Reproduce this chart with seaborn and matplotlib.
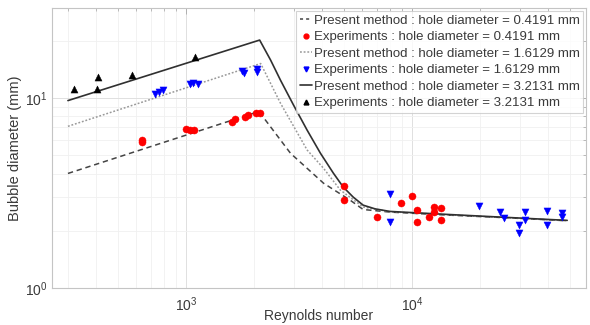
import numpy as np
import pandas as pd
import matplotlib
matplotlib.use("Agg")
import matplotlib.pyplot as plt
import seaborn as sns
from matplotlib.ticker import LogLocator, NullFormatter
from matplotlib.lines import Line2D

# ---- Model curves (Present method) ----
re_model_small = [300, 2103, 2901, 4065, 5330, 6084, 8000, 13400, 25000, 48700]
d_model_small = [4.01, 8.5, 5.12, 3.56, 2.90, 2.59, 2.51, 2.43, 2.35, 2.26]

re_model_mid = [300, 2140, 2621, 3436, 4055, 4819, 6084, 8000, 13400, 25000, 48700]
d_model_mid = [7.1, 15.2, 9.38, 5.33, 4.28, 3.28, 2.67, 2.52, 2.44, 2.35, 2.26]

re_model_large = [300, 2118, 2368, 2621, 2991, 3436, 3933, 4487, 4966, 5497, 6084, 6870, 8000, 13400, 25000, 48700]
d_model_large = [9.7, 20.2, 15.85, 12.4, 9.19, 6.78, 5.13, 4.03, 3.40, 3.01, 2.73, 2.61, 2.53, 2.45, 2.36, 2.27]

# ---- Experiments ----
re_exp_small = [638, 638, 1000, 1040, 1080, 1600, 1650, 1820, 1880, 2040, 2120,
                4980, 4980, 6990, 8950, 9970, 10490, 10490, 11930, 12500, 12500, 13400, 13400]
d_exp_small = [6.05, 5.85, 6.85, 6.8, 6.75, 7.5, 7.8, 7.95, 8.15, 8.3, 8.35,
               3.45, 2.90, 2.36, 2.79, 3.06, 2.57, 2.23, 2.36, 2.66, 2.52, 2.65, 2.28]

re_exp_mid = [730, 760, 790, 1040, 1070, 1130, 1770, 1800, 2055, 2055,
              8000, 8000, 19800, 24660, 25700, 29700, 29700, 31700, 31700, 39500, 39500, 46400, 46400]
d_exp_mid = [10.5, 10.8, 11.0, 11.9, 11.95, 11.8, 13.9, 13.5, 14.3, 13.7,
             3.12, 2.22, 2.70, 2.50, 2.33, 2.15, 1.94, 2.50, 2.28, 2.55, 2.15, 2.49, 2.36]

re_exp_large = [320, 403, 408, 577, 1096]
d_exp_large = [11.2, 11.2, 12.9, 13.2, 16.5]

labels = [
    "Present method : hole diameter = 0.4191 mm",
    "Experiments : hole diameter = 0.4191 mm",
    "Present method : hole diameter = 1.6129 mm",
    "Experiments : hole diameter = 1.6129 mm",
    "Present method : hole diameter = 3.2131 mm",
    "Experiments : hole diameter = 3.2131 mm",
]

sns.set_theme(style="white")
plt.rcParams['font.family'] = ['Liberation Sans', 'DejaVu Sans']
plt.rcParams['mathtext.fontset'] = 'custom'
plt.rcParams['mathtext.rm'] = 'Liberation Sans'
plt.rcParams['mathtext.it'] = 'Liberation Sans'

fig = plt.figure(figsize=(5.9, 3.25), dpi=100)
ax = fig.add_axes([52/590, 1-288/325, (586-52)/590, (288-8)/325])

txt = '#3a3a3a'

sns.lineplot(x=re_model_small, y=d_model_small, ax=ax, color='#444444', lw=1.1,
             linestyle=(0, (3.5, 2.5)), estimator=None, sort=False)
sns.lineplot(x=re_model_mid, y=d_model_mid, ax=ax, color='#999999', lw=1.1,
             linestyle=(0, (1.2, 1.2)), estimator=None, sort=False)
sns.lineplot(x=re_model_large, y=d_model_large, ax=ax, color='#303030', lw=1.2,
             linestyle='-', estimator=None, sort=False)

sns.scatterplot(x=re_exp_small, y=d_exp_small, ax=ax, color='#ff0000', marker='o',
                s=26, edgecolor='#ff0000', linewidth=0.3, zorder=5)
sns.scatterplot(x=re_exp_mid, y=d_exp_mid, ax=ax, color='#0000ff', marker='v',
                s=26, edgecolor='#0000ff', linewidth=0.3, zorder=5)
sns.scatterplot(x=re_exp_large, y=d_exp_large, ax=ax, color='#000000', marker='^',
                s=26, edgecolor='#000000', linewidth=0.3, zorder=5)

ax.set_xscale('log')
ax.set_yscale('log')
ax.set_xlim(255, 59000)
ax.set_ylim(1, 29.8)

ax.xaxis.set_major_locator(LogLocator(base=10))
ax.xaxis.set_minor_locator(LogLocator(base=10, subs=np.arange(2, 10)))
ax.yaxis.set_major_locator(LogLocator(base=10))
ax.yaxis.set_minor_locator(LogLocator(base=10, subs=np.arange(2, 10)))
ax.xaxis.set_minor_formatter(NullFormatter())
ax.yaxis.set_minor_formatter(NullFormatter())

ax.grid(True, which='major', color='#e0e0e0', lw=0.7)
ax.grid(True, which='minor', color='#f0f0f0', lw=0.6)
ax.set_axisbelow(True)

for sp in ax.spines.values():
    sp.set_color('#c4c4c4')
    sp.set_linewidth(0.8)

ax.tick_params(which='both', direction='in', top=True, right=True,
               colors='#b0b0b0', labelcolor=txt, labelsize=10)
ax.tick_params(which='major', length=4, width=0.7)
ax.tick_params(which='minor', length=2.5, width=0.6)
ax.tick_params(axis='x', pad=5)

ax.set_xlabel('Reynolds number', fontsize=10, color=txt)
ax.xaxis.set_label_coords(0.5, -(309 - 288) / 280)
ax.set_ylabel('Bubble diameter (mm)', fontsize=10.5, color=txt, labelpad=2)

handles = [
    Line2D([], [], color='#444444', lw=1.1, linestyle=(0, (2, 2))),
    Line2D([], [], color='#ff0000', marker='o', ms=3.5, lw=0),
    Line2D([], [], color='#999999', lw=1.1, linestyle=(0, (1.2, 1.2))),
    Line2D([], [], color='#0000ff', marker='v', ms=3.5, lw=0),
    Line2D([], [], color='#303030', lw=1.2, linestyle='-'),
    Line2D([], [], color='#000000', marker='^', ms=3.5, lw=0),
]
leg = ax.legend(handles, labels, loc='upper right', fontsize=9.5, frameon=True,
                handlelength=0.9, handletextpad=0.15, labelspacing=0.32,
                borderpad=0.3, borderaxespad=0.2, fancybox=False)
leg.get_frame().set_edgecolor('#c8c8c8')
leg.get_frame().set_linewidth(0.8)
for t in leg.get_texts():
    t.set_color(txt)

fig.savefig('out.png', dpi=100)
